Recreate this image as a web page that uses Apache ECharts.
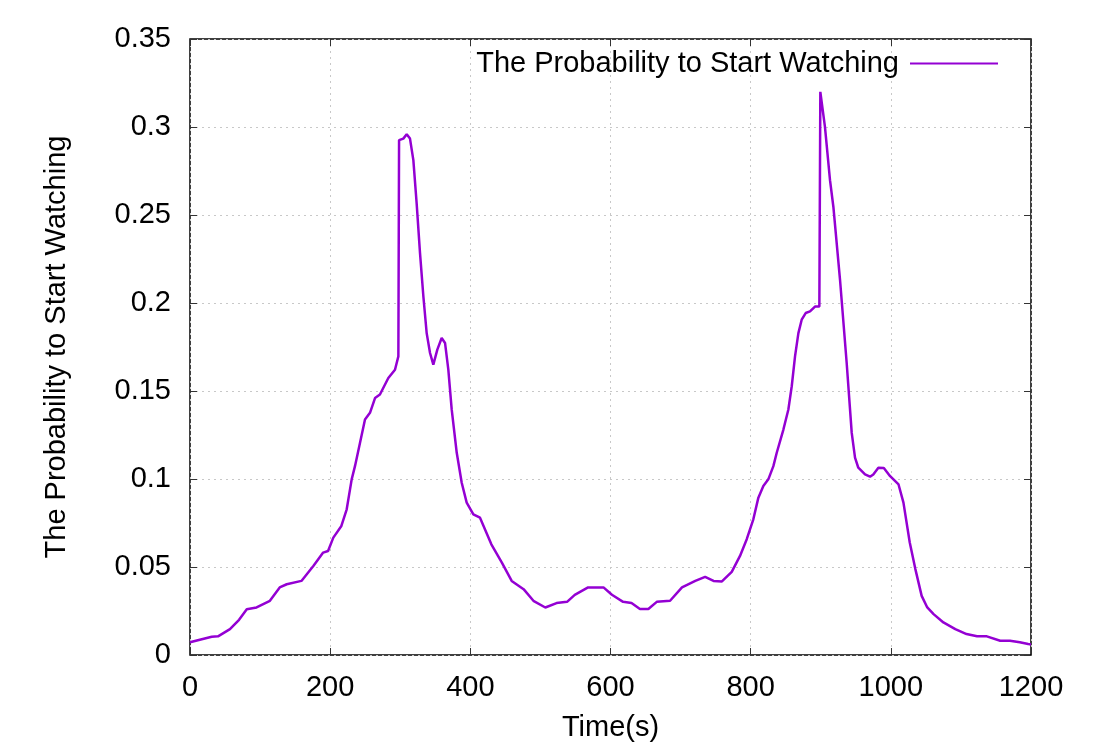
<!DOCTYPE html>
<html>
<head>
<meta charset="utf-8">
<script src="https://cdn.jsdelivr.net/npm/echarts@6/dist/echarts.min.js"></script>
<style>html,body{margin:0;padding:0;background:#fff;}#c{width:1104px;height:747px;}</style>
</head>
<body>
<div id="c"></div>
<script>
const seriesName = 'The Probability to Start Watching';
const xTitle = 'Time(s)';
const times = [0,14,31,40,57,70,81,95,114,128,138,159,176,190,197,204.5,216,223.6,230.7,235.4,242.6,249.7,256.8,264,271,283,292.5,297.3,298.3,304.4,309.2,313.9,318.7,323.4,328.2,333,337.7,342.5,347.2,352.9,359.1,363.9,368.6,373.4,380.6,387.7,394.8,404.3,413.8,430,445,459,476,490,507,523,538,549,568,590,602,618,630,642,654,666,685,702,721,735,747,759,773,784.8,794.4,803.8,811,818.1,825.2,832.4,837.2,846.7,853.8,858.6,863.3,868.1,872.8,878.5,884.7,891.8,898,899.4,906,913.2,918,927.5,937,944.2,948.9,953.6,963.2,970.3,975,982.2,990,999,1011,1018,1027,1035,1044,1052,1061,1075,1092,1108,1123,1137,1156,1170,1184,1196,1200];
const probs = [0.0072,0.0087,0.0104,0.0106,0.0147,0.02,0.026,0.027,0.0308,0.0384,0.0402,0.0421,0.0506,0.0582,0.0591,0.0667,0.0733,0.0828,0.0998,0.1073,0.1206,0.1338,0.1376,0.146,0.148,0.1574,0.1621,0.1697,0.2925,0.2934,0.2959,0.2934,0.2812,0.2566,0.2283,0.2037,0.1829,0.1716,0.165,0.1735,0.1801,0.1773,0.1621,0.1395,0.1149,0.0979,0.0866,0.0799,0.078,0.0629,0.0525,0.0421,0.0374,0.0308,0.027,0.0295,0.0302,0.0342,0.0384,0.0384,0.0342,0.0302,0.0295,0.0261,0.0261,0.0302,0.0308,0.0384,0.0421,0.0444,0.0421,0.0418,0.0472,0.0563,0.0658,0.0771,0.0894,0.096,0.0998,0.1073,0.1149,0.1281,0.1395,0.1527,0.1697,0.1829,0.1905,0.1943,0.1952,0.198,0.198,0.32,0.3001,0.2698,0.2547,0.2132,0.1659,0.1262,0.1121,0.1064,0.1026,0.1013,0.1026,0.1064,0.1063,0.1016,0.0969,0.0866,0.0639,0.0488,0.0336,0.027,0.0232,0.0185,0.0147,0.0119,0.0106,0.0106,0.0081,0.0081,0.0072,0.0062,0.006];
const xTicks = [0,200,400,600,800,1000,1200];
const yTicks = [0,0.05,0.1,0.15,0.2,0.25,0.3,0.35];

const data = times.map((t,i)=>[t, probs[i]]);
const font = 'Liberation Sans, Arial, sans-serif';
const FS = 29;
const chart = echarts.init(document.getElementById('c'));
const gridLine = {show:true, lineStyle:{color:'#c8c8c8', type:[2,4], width:1}};
const tick = {show:true, inside:true, length:7, lineStyle:{color:'#333', width:1}};
chart.setOption({
  animation:false,
  backgroundColor:'#fff',
  grid:{left:190, right:73, top:39, bottom:91, show:true, borderColor:'#000', borderWidth:1.5, backgroundColor:'transparent'},
  legend:{
    show:true, top:44, right:101, align:'right', itemWidth:88, itemHeight:2, itemGap:10,
    icon:'rect',
    textStyle:{fontFamily:font, fontSize:FS, color:'#000', padding:[0,6,0,0]},
    data:[{name:seriesName, itemStyle:{color:'#9400d3'}}]
  },
  xAxis:[{
    type:'value', min:0, max:1200, interval:200,
    name:xTitle, nameLocation:'middle', nameGap:58,
    nameTextStyle:{fontFamily:font, fontSize:FS, color:'#000'},
    axisLine:{show:false, onZero:false}, axisTick:tick,
    axisLabel:{fontFamily:font, fontSize:FS, color:'#000', margin:18, formatter:v=>xTicks.includes(v)?String(v):''},
    splitLine:gridLine
  },{
    type:'value', min:0, max:1200, interval:200, position:'top',
    axisLine:{show:false, onZero:false}, axisTick:tick,
    axisLabel:{show:false}, splitLine:{show:false}
  }],
  yAxis:[{
    type:'value', min:0, max:0.35, interval:0.05,
    name:seriesName, nameLocation:'middle', nameGap:119, nameRotate:90,
    nameTextStyle:{fontFamily:font, fontSize:FS, color:'#000'},
    axisLine:{show:false, onZero:false}, axisTick:tick,
    axisLabel:{fontFamily:font, fontSize:FS, color:'#000', margin:19,
      formatter:v=>{const m=yTicks.find(t=>Math.abs(t-v)<1e-9); return m===undefined?'':String(+m.toFixed(2));}},
    splitLine:gridLine
  },{
    type:'value', min:0, max:0.35, interval:0.05, position:'right',
    axisLine:{show:false, onZero:false}, axisTick:tick,
    axisLabel:{show:false}, splitLine:{show:false}
  }],
  series:[{
    name:seriesName, type:'line', data:data, showSymbol:false, symbol:'none',
    lineStyle:{color:'#9400d3', width:2.5}, itemStyle:{color:'#9400d3'},
    xAxisIndex:0, yAxisIndex:0
  }]
});
</script>
</body>
</html>
